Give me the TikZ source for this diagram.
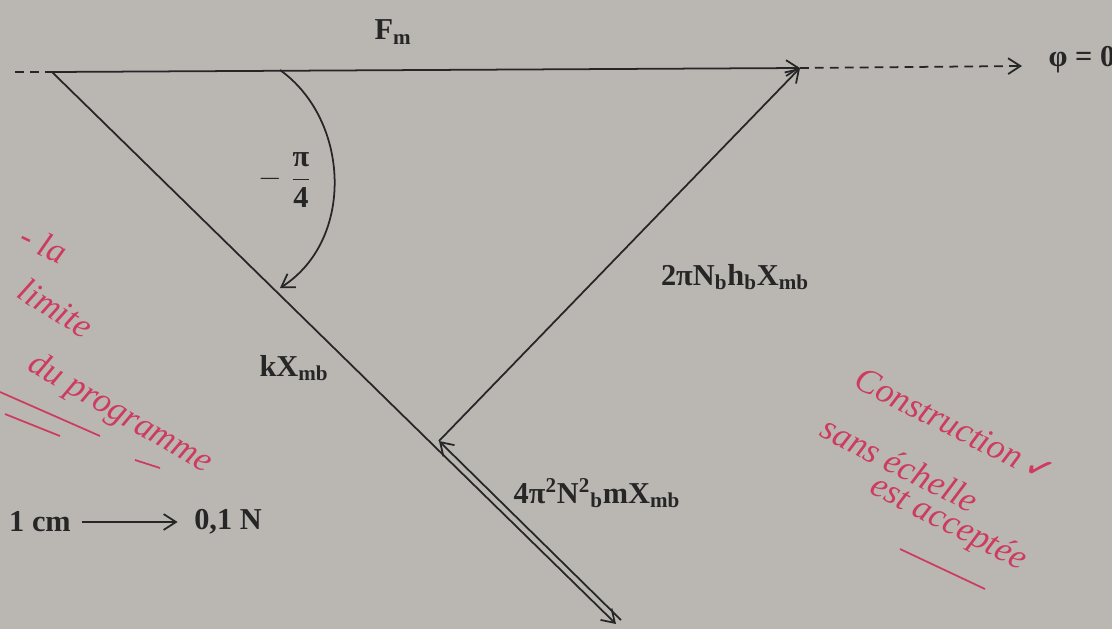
\documentclass[tikz,border=0pt]{standalone}
\usepackage{amsmath}
\usepackage{fontspec}
\setmainfont{Liberation Serif}
\newfontfamily\symfont{DejaVu Sans}
\usetikzlibrary{arrows.meta}
\definecolor{paper}{RGB}{186,183,179}
\definecolor{ink}{RGB}{205,60,95}

\begin{document}
\begin{tikzpicture}[x=0.02cm, y=-0.02cm, >={Straight Barb[length=7pt,width=9pt]}, line width=1pt,
  vec/.style={->, draw=black!85},
  guideline/.style={dashed, dash pattern=on 5pt off 3.5pt, draw=black!85},
  lbl/.style={font=\bfseries\LARGE, text=black!85, inner sep=1pt},
  pen/.style={text=ink, font=\itshape\fontsize{20}{22}\selectfont, inner sep=0pt}]
  \fill[paper] (0,0) rectangle (1112,629);
  \useasboundingbox (0,0) rectangle (1112,629);

  % points of the force polygon
  \coordinate (L)  at (15,72);
  \coordinate (O)  at (52,72);
  \coordinate (F)  at (800,68);
  \coordinate (R)  at (1022,66);
  \coordinate (K)  at (616,624);
  \coordinate (K2) at (621,620);
  \coordinate (P2) at (439,441);
  \coordinate (A1) at (280,70);
  \coordinate (A2) at (280,288);

  \draw[guideline] (L) -- (O);
  \draw[vec] (O) -- (F);
  \draw[vec, guideline] (F) -- (R);
  \draw[vec] (O) -- (K);
  \draw[vec] (K2) -- (P2);
  \draw[vec] (P2) -- (F);
  \draw[vec] (A1) .. controls (350,120) and (355,240) .. (A2);

  % labels
  \node[lbl] (fm)     at (393,32)  {F\textsubscript{m}};
  \node[lbl, anchor=west] (phi) at (1046,60) {φ = 0};
  \node[lbl] (ang)    at (285,180) {$-\;\dfrac{\textbf{π}}{\textbf{4}}$};
  \node[lbl] (damp)   at (735,277) {2πN\textsubscript{b}h\textsubscript{b}X\textsubscript{mb}};
  \node[lbl] (spring) at (294,368) {kX\textsubscript{mb}};
  \node[lbl] (inert)  at (597,493) {4π\textsuperscript{2}N\textsuperscript{2}\textsubscript{b}mX\textsubscript{mb}};

  % scale
  \node[lbl] (cm)     at (40,522)  {1 cm};
  \node[lbl] (newton) at (228,522) {0,1 N};
  \draw[vec, shorten <=5pt, shorten >=8pt] (cm) -- (newton);

  % red notes
  \node[pen, rotate=-25] (n1) at (44,244)  {- la};
  \node[pen, rotate=-32] (n2) at (56,308)  {limite};
  \node[pen, rotate=-30] (n3) at (120,414) {du programme};
  \draw[ink, line width=1pt] (0,392) -- (100,436);
  \draw[ink, line width=1pt] (5,414) -- (60,436);
  \draw[ink, line width=1pt] (135,460) -- (160,468);
  \node[pen, rotate=-27] (n4) at (955,426) {Construction\,{\symfont\upshape ✓}};
  \node[pen, rotate=-27] (n5) at (900,464) {sans échelle};
  \node[pen, rotate=-27] (n6) at (948,524) {est acceptée};
  \draw[ink, line width=1pt] (900,549) -- (985,589);
\end{tikzpicture}
\end{document}
